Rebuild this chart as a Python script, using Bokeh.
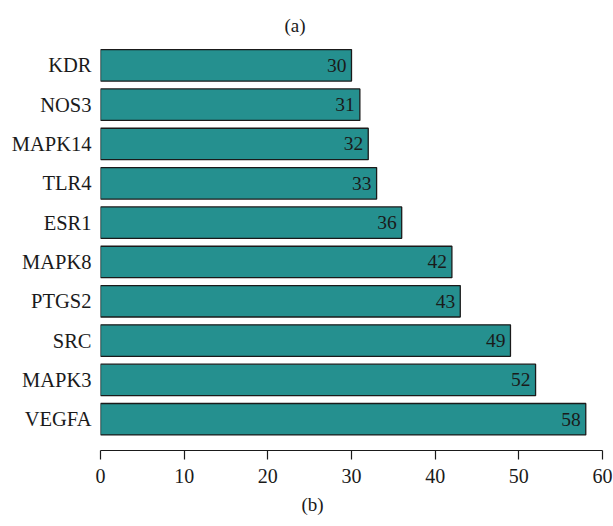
from bokeh.plotting import figure
from bokeh.models import ColumnDataSource, Range1d, FixedTicker, Title
from bokeh.core.properties import value
from bokeh.embed import file_html
from bokeh.resources import INLINE

# Gene names (top to bottom) and their degree values
genes = ["KDR", "NOS3", "MAPK14", "TLR4", "ESR1", "MAPK8", "PTGS2", "SRC", "MAPK3", "VEGFA"]
degrees = [30, 31, 32, 33, 36, 42, 43, 49, 52, 58]
x_ticks = [0, 10, 20, 30, 40, 50, 60]

FONT = "Liberation Serif"
BAR_COLOR = "#25908f"
INK = "#1a1a1a"

n = len(genes)
ypos = [n - 1 - i for i in range(n)]  # KDR on top, VEGFA at the bottom

src = ColumnDataSource(dict(y=ypos, deg=degrees, label=[str(d) for d in degrees]))

p = figure(width=613, height=526, output_backend="svg", toolbar_location=None,
           x_range=Range1d(0, 60), y_range=Range1d(-0.795, n - 1 + 0.632),
           min_border_left=100, min_border_right=11, min_border_top=40,
           min_border_bottom=76)
p.outline_line_color = None
p.grid.grid_line_color = None
p.background_fill_color = "white"
p.border_fill_color = "white"

p.hbar(y="y", left=0, right="deg", height=0.8, source=src,
       fill_color=BAR_COLOR, line_color=INK, line_width=1.3)

p.text(x="deg", y="y", text="label", source=src, x_offset=-5,
       text_align="right", text_baseline="middle",
       text_font=value(FONT), text_font_size="19.5px", text_color=INK)

# x axis: line with outward ticks, numbers below
xa = p.xaxis[0]
xa.ticker = FixedTicker(ticks=x_ticks)
xa.axis_line_color = INK
xa.axis_line_width = 1.2
xa.major_tick_line_color = INK
xa.major_tick_line_width = 1.2
xa.major_tick_in = 0
xa.major_tick_out = 9
xa.minor_tick_line_color = None
xa.major_label_standoff = 9
xa.major_label_text_font = FONT
xa.major_label_text_font_size = "20px"
xa.major_label_text_color = INK

# y axis: gene names only
ya = p.yaxis[0]
ya.ticker = FixedTicker(ticks=ypos)
ya.major_label_overrides = {y: g for y, g in zip(ypos, genes)}
ya.axis_line_color = None
ya.major_tick_line_color = None
ya.minor_tick_line_color = None
ya.major_tick_out = 0
ya.major_tick_in = 0
ya.major_label_standoff = 9
ya.major_label_text_font = FONT
ya.major_label_text_font_size = "20.5px"
ya.major_label_text_color = INK

# panel captions
cap_a = Title(text="(a)", align="left", offset=184, text_font=FONT,
              text_font_size="19px", text_font_style="normal", text_color=INK)
p.add_layout(cap_a, "above")
cap_b = Title(text="(b)", align="left", offset=201, standoff=13, text_font=FONT,
              text_font_size="19px", text_font_style="normal", text_color=INK)
p.add_layout(cap_b, "below")

open("out.html", "w").write(file_html(p, INLINE))
